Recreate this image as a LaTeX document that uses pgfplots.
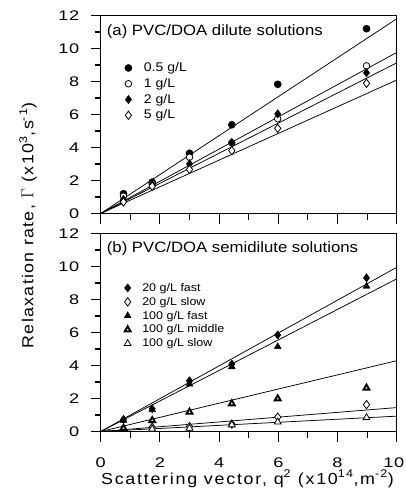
\documentclass[border=0pt]{standalone}
\usepackage{pgfplots}
\pgfplotsset{compat=1.18}
\usepackage{fontspec}
\setmainfont{Liberation Sans}[FakeStretch=1.12]
\newfontfamily\tickfont{Liberation Sans}[FakeStretch=1.3, LetterSpace=5]
\pgfplotsset{
  panel/.style={
    scale only axis, width=296bp, height=198bp,
    xmin=0, xmax=10, ymin=0, ymax=12,
    xtick={0,2,...,10}, minor xtick={1,3,...,9},
    ytick={0,2,...,12}, minor ytick={1,3,...,11},
    xtick pos=left, ytick pos=left, tick align=outside,
    major tick length=10bp, minor tick length=6bp,
    every tick/.style={black, line width=1.1pt},
    axis line style={line width=1.1pt},
    /pgf/number format/assume math mode=true,
    ticklabel style={font=\tickfont\fontsize{14}{16}\selectfont},
    yticklabel style={xshift=-8bp},
    xticklabel style={yshift=-13bp},
    clip=false,
    fitline/.style={black, line width=0.75pt, forget plot},
    legend cell align=left,
    legend image code/.code={\path (-6bp,0bp) (6bp,0bp); \draw[##1] plot coordinates {(0bp,0bp)};},
  }
}
\begin{document}
\begin{tikzpicture}
\begin{axis}[panel, at={(0,0)}, anchor=north west, xticklabels={},
  legend style={draw=none, fill=none, at={(rel axis cs:0.072,0.769)}, anchor=north west,
    font=\fontsize{12.6}{14}\selectfont, row sep=2.8bp, inner sep=0pt,
    nodes={inner sep=0pt, text height=10bp, text depth=3bp},
    /tikz/every odd column/.append style={column sep=9.3bp}}]
\addplot[fitline] coordinates {(0,0) (10,11.8)};
\addplot[fitline] coordinates {(0,0) (10,9.76)};
\addplot[fitline] coordinates {(0,0) (10,9.13)};
\addplot[fitline] coordinates {(0,0) (10,8.09)};
\addplot[only marks, mark=*, mark size=3.6, mark options={fill=black, draw=black}] coordinates {(0.77,1.2)(1.74,1.9)(3.0,3.65)(4.43,5.38)(5.98,7.83)(8.98,11.2)};
\addlegendentry{0.5 g/L}
\addplot[only marks, mark=*, mark size=3.3, mark options={fill=white, draw=black, line width=0.8pt}] coordinates {(0.77,1.05)(1.74,1.8)(3.0,3.41)(4.43,4.28)(5.98,5.74)(8.98,8.95)};
\addlegendentry{1 g/L}
\addplot[only marks, mark=diamond*, mark size=4.2, mark options={fill=black, draw=black}] coordinates {(0.77,0.85)(1.74,1.75)(3.0,3.01)(4.43,4.31)(5.98,6.04)(8.98,8.53)};
\addlegendentry{2 g/L}
\addplot[only marks, mark=diamond*, mark size=4.2, mark options={fill=white, draw=black, line width=0.8pt}] coordinates {(0.77,0.7)(1.74,1.65)(3.0,2.67)(4.43,3.81)(5.98,5.16)(8.98,7.89)};
\addlegendentry{5 g/L}
\node[anchor=west, inner sep=0pt, font=\fontsize{15}{17}\selectfont] at (rel axis cs:0.0203,0.918) {(a) PVC/DOA dilute solutions};
\end{axis}
\begin{axis}[panel, at={(0,-218bp)}, anchor=north west,
  xticklabels={0,2,4,6,8,{\hspace*{-6bp}10}},
  legend style={draw=none, fill=none, at={(rel axis cs:0.0696,0.755)}, anchor=north west,
    font=\fontsize{11.2}{13}\selectfont, row sep=2.4bp, inner sep=0pt,
    nodes={inner sep=0pt, text height=9bp, text depth=2.5bp},
    /tikz/every odd column/.append style={column sep=8.4bp}}]
\addplot[fitline] coordinates {(0,0) (10,9.95)};
\addplot[fitline] coordinates {(0,0) (10,9.25)};
\addplot[fitline] coordinates {(0,0) (10,4.29)};
\addplot[fitline] coordinates {(0,0) (10,1.45)};
\addplot[fitline] coordinates {(0,0) (10,0.93)};
\addplot[only marks, mark=diamond*, mark size=4.2, mark options={fill=black, draw=black}] coordinates {(0.77,0.73)(1.74,1.38)(3.0,3.07)(4.43,4.09)(5.98,5.85)(8.98,9.31)};
\addlegendentry{20 g/L fast}
\addplot[only marks, mark=diamond*, mark size=4.2, mark options={fill=white, draw=black, line width=0.8pt}] coordinates {(1.74,0.25)(3.0,0.3)(4.43,0.45)(5.98,0.87)(8.98,1.63)};
\addlegendentry{20 g/L slow}
\addplot[only marks, mark=triangle*, mark size=4, mark options={fill=black, draw=black}] coordinates {(0.77,0.67)(1.74,1.32)(3.0,2.87)(4.43,3.92)(5.98,5.14)(8.98,8.80)};
\addlegendentry{100 g/L fast}
\addplot[only marks, mark=triangle*, mark size=3.4, mark options={fill=white, draw=black, line width=1.9pt}] coordinates {(0.77,0.2)(1.74,0.67)(3.0,1.18)(4.43,1.69)(5.98,1.99)(8.98,2.64)};
\addlegendentry{100 g/L middle}
\addplot[only marks, mark=triangle*, mark size=4, mark options={fill=white, draw=black, line width=0.8pt}] coordinates {(1.74,0.15)(3.0,0.2)(4.43,0.4)(5.98,0.57)(8.98,0.84)};
\addlegendentry{100 g/L slow}
\node[anchor=west, inner sep=0pt, font=\fontsize{15}{17}\selectfont] at (rel axis cs:0.0203,0.925) {(b) PVC/DOA semidilute solutions};
\end{axis}
\node[rotate=90, anchor=base, font=\addfontfeature{LetterSpace=8.3}\fontsize{16}{18}\selectfont] at (-67.4bp,-210bp) {Relaxation rate, $\Gamma$ (x10\textsuperscript{3},s\textsuperscript{-1})};
\node[anchor=base, font=\addfontfeature{LetterSpace=11}\fontsize{16}{18}\selectfont] at (146.8bp,-468.5bp) {Scattering vector, q\textsuperscript{2} (x10\textsuperscript{14},m\textsuperscript{-2})};
\pgfresetboundingbox
\path (-100.7bp,15.5bp) rectangle (305.3bp,-483.5bp);
\end{tikzpicture}
\end{document}
